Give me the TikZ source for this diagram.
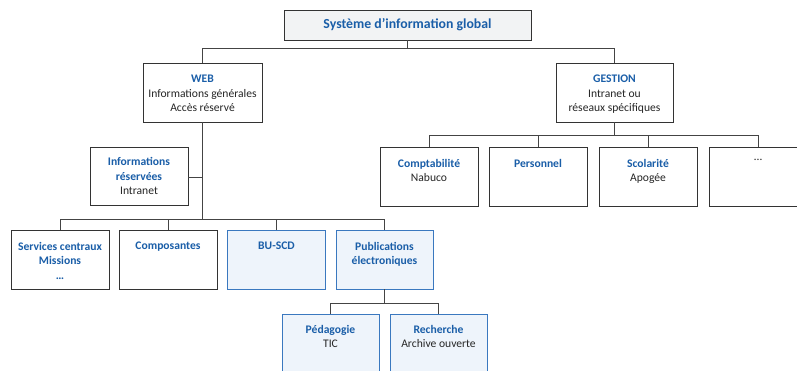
\documentclass[tikz,border=0pt]{standalone}
\usepackage{fontspec}
\setmainfont{Carlito}
\definecolor{bluetext}{HTML}{1A5EA8}
\definecolor{blueline}{HTML}{3A78BF}
\definecolor{bluefill}{HTML}{EEF4FB}
\definecolor{greyfill}{HTML}{F2F3F4}
\definecolor{boxline}{HTML}{333333}
\definecolor{conn}{HTML}{444444}
\tikzset{
  box/.style={draw=boxline, line width=0.9pt, fill=white, minimum width=98pt, minimum height=59pt, inner sep=0pt},
  bluebox/.style={box, draw=blueline, fill=bluefill},
  topbox/.style={box, fill=greyfill, minimum width=247pt, minimum height=30pt},
  txt/.style={anchor=north, inner sep=0pt, align=center, font=\fontsize{11.6}{14.4}\selectfont, text=black!85},
  conline/.style={draw=conn, line width=0.9pt},
}
\newcommand{\hd}[1]{\textcolor{bluetext}{\textbf{#1}}}
\begin{document}
\begin{tikzpicture}[x=1pt,y=-1pt]
\path[use as bounding box, clip] (0,0) rectangle (797,370);
% bus coordinates
\coordinate (b1) at (0,48);
\coordinate (b2) at (0,219);
\coordinate (b3) at (0,303);
\coordinate (b4) at (0,135);
\coordinate (jres) at (203,177);
% boxes
\node[topbox] (top) at (407.5,25) {};
\node[box, minimum width=119pt] (web) at (202.5,92.5) {};
\node[box, minimum width=117pt] (gest) at (614.5,92.5) {};
\node[box, minimum height=58pt] (ires) at (139,176) {};
\node[box] (serv) at (60,259.5) {};
\node[box] (comp) at (168,259.5) {};
\node[bluebox] (bu) at (276.5,259.5) {};
\node[bluebox, minimum width=97pt] (pub) at (384.5,259.5) {};
\node[bluebox, minimum width=97pt, minimum height=64pt] (ped) at (330.5,346) {};
\node[bluebox, minimum width=97pt, minimum height=64pt] (rech) at (438.5,346) {};
\node[box] (compta) at (429,176.5) {};
\node[box] (pers) at (538,176.5) {};
\node[box] (scol) at (648,176.5) {};
\node[box] (etc) at (758,176.5) {};
% connectors
\draw[conline] (top.south) -- (top.south |- b1);
\draw[conline] (web.north) -- (web.north |- b1) -- (gest.north |- b1) -- (gest.north);
\draw[conline] (web.south) -- (web.south |- b2);
\draw[conline] (ires.east |- jres) -- (jres);
\draw[conline] (serv.north) -- (serv.north |- b2) -- (pub.north |- b2) -- (pub.north);
\draw[conline] (comp.north) -- (comp.north |- b2);
\draw[conline] (bu.north) -- (bu.north |- b2);
\draw[conline] (pub.south) -- (pub.south |- b3);
\draw[conline] (ped.north) -- (ped.north |- b3) -- (rech.north |- b3) -- (rech.north);
\draw[conline] (gest.south) -- (gest.south |- b4);
\draw[conline] (compta.north) -- (compta.north |- b4) -- (etc.north |- b4) -- (etc.north);
\draw[conline] (pers.north) -- (pers.north |- b4);
\draw[conline] (scol.north) -- (scol.north |- b4);
% texts
\node[txt, font=\fontsize{13.8}{16}\selectfont, anchor=center] (ttop) at (top.center) {\hd{Système d’information global}};
\node[txt] (tweb) at ([yshift=-12.5]web.north) {\hd{WEB}\\Informations générales\\Accès réservé};
\node[txt] (tgest) at ([yshift=-12.5]gest.north) {\hd{GESTION}\\Intranet ou\\réseaux spécifiques};
\node[txt] (tires) at ([yshift=-11]ires.north) {\hd{Informations}\\\hd{réservées}\\Intranet};
\node[txt] (tserv) at ([yshift=-12.5]serv.north) {\hd{Services centraux}\\\hd{Missions}\\\hd{…}};
\node[txt] (tcomp) at ([yshift=-12.5]comp.north) {\hd{Composantes}};
\node[txt] (tbu) at ([yshift=-12.5]bu.north) {\hd{BU-SCD}};
\node[txt] (tpub) at ([yshift=-12.5]pub.north) {\hd{Publications}\\\hd{électroniques}};
\node[txt] (tped) at ([yshift=-11.5]ped.north) {\hd{Pédagogie}\\TIC};
\node[txt] (trech) at ([yshift=-11.5]rech.north) {\hd{Recherche}\\Archive ouverte};
\node[txt] (tcompta) at ([yshift=-12.5]compta.north) {\hd{Comptabilité}\\Nabuco};
\node[txt] (tpers) at ([yshift=-12.5]pers.north) {\hd{Personnel}};
\node[txt] (tscol) at ([yshift=-12.5]scol.north) {\hd{Scolarité}\\Apogée};
\node[txt] (tetc) at ([yshift=-12.5]etc.north) {…};
\end{tikzpicture}
\end{document}
